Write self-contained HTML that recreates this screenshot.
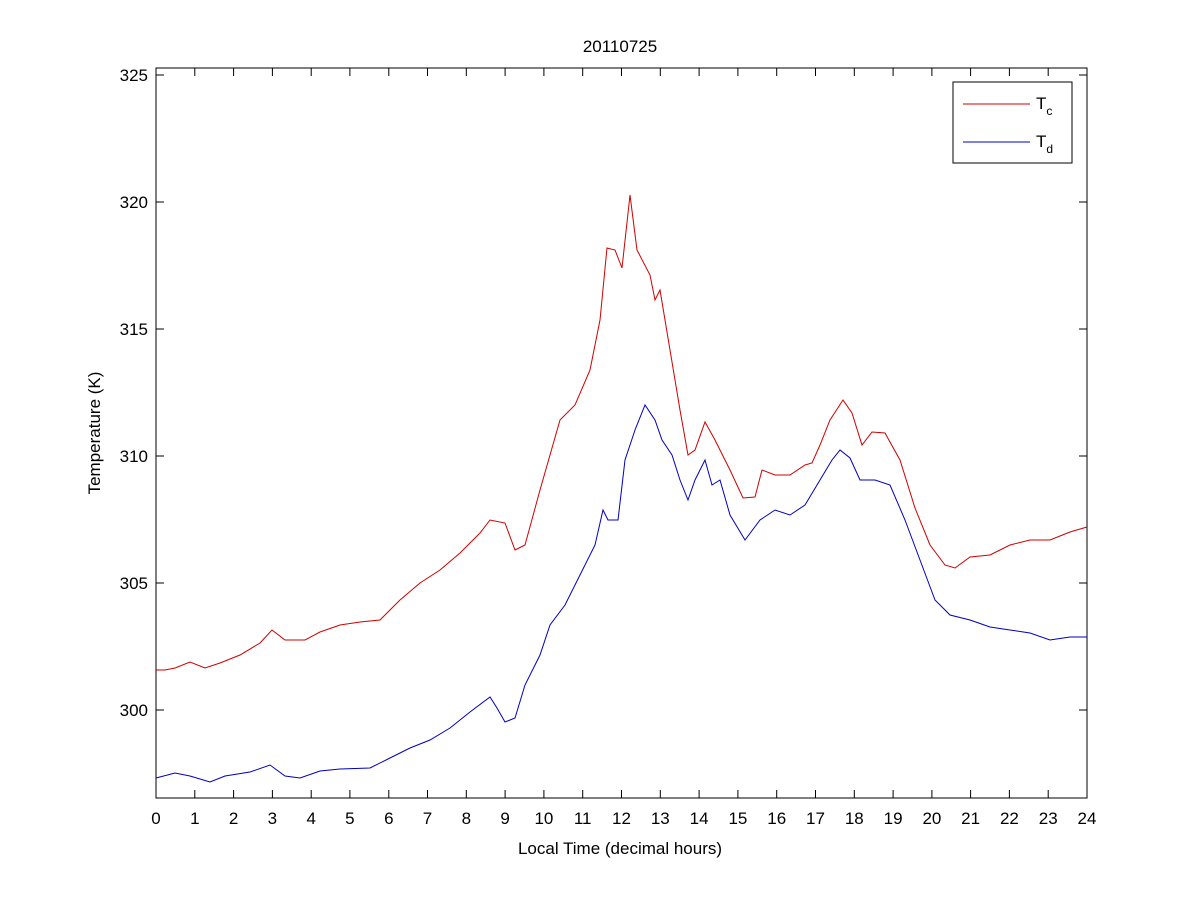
<!DOCTYPE html>
<html><head><style>body{margin:0;background:#fff}svg{display:block;font-family:"Liberation Sans",sans-serif}</style></head>
<body>
<svg width="1201" height="900" xmlns="http://www.w3.org/2000/svg">
<rect width="1201" height="900" fill="#fff"/>
<rect x="156" y="68" width="931" height="730" fill="none" stroke="#000" stroke-width="1"/>
<g stroke="#000" stroke-width="1" id="t">
<!-- y ticks -->
<path d="M156 75h8M1087 75h-8M156 202h8M1087 202h-8M156 329h8M1087 329h-8M156 456h8M1087 456h-8M156 583h8M1087 583h-8M156 710h8M1087 710h-8"/>
<path d="M156.0 798v-8M156.0 68v8M194.8 798v-8M194.8 68v8M233.6 798v-8M233.6 68v8M272.4 798v-8M272.4 68v8M311.2 798v-8M311.2 68v8M349.9 798v-8M349.9 68v8M388.8 798v-8M388.8 68v8M427.5 798v-8M427.5 68v8M466.3 798v-8M466.3 68v8M505.1 798v-8M505.1 68v8M543.9 798v-8M543.9 68v8M582.7 798v-8M582.7 68v8M621.5 798v-8M621.5 68v8M660.3 798v-8M660.3 68v8M699.1 798v-8M699.1 68v8M737.9 798v-8M737.9 68v8M776.7 798v-8M776.7 68v8M815.5 798v-8M815.5 68v8M854.3 798v-8M854.3 68v8M893.1 798v-8M893.1 68v8M931.9 798v-8M931.9 68v8M970.6 798v-8M970.6 68v8M1009.4 798v-8M1009.4 68v8M1048.2 798v-8M1048.2 68v8M1087 798v-8M1087 68v8"/>
</g>
<g font-size="17" text-anchor="end">
<text x="148" y="81">325</text><text x="148" y="208">320</text><text x="148" y="335">315</text><text x="148" y="462">310</text><text x="148" y="589">305</text><text x="148" y="716">300</text>
</g>
<g font-size="17" text-anchor="middle">
<text x="156" y="824">0</text><text x="194.8" y="824">1</text><text x="233.6" y="824">2</text><text x="272.4" y="824">3</text><text x="311.2" y="824">4</text><text x="349.9" y="824">5</text><text x="388.8" y="824">6</text><text x="427.5" y="824">7</text><text x="466.3" y="824">8</text><text x="505.1" y="824">9</text><text x="543.9" y="824">10</text><text x="582.7" y="824">11</text><text x="621.5" y="824">12</text><text x="660.3" y="824">13</text><text x="699.1" y="824">14</text><text x="737.9" y="824">15</text><text x="776.7" y="824">16</text><text x="815.5" y="824">17</text><text x="854.3" y="824">18</text><text x="893.1" y="824">19</text><text x="931.9" y="824">20</text><text x="970.6" y="824">21</text><text x="1009.4" y="824">22</text><text x="1048.2" y="824">23</text><text x="1087" y="824">24</text>
<text x="620" y="854">Local Time (decimal hours)</text>
<text x="620" y="52">20110725</text>
<text transform="translate(100,433) rotate(-90)">Temperature (K)</text>
</g>
<polyline fill="none" stroke="#d00000" stroke-width="1" points="156,670 165,670 175,668 190,662 205,668 220,663 240,655 260,643 272,630 285,640 305,640 320,632 340,625 360,622 380,620 400,600 420,583 440,570 460,553 480,533 490,520 505,523 515,550 525,545 540,490 560,420 575,405 590,370 600,320 607,248 615,250 622,268 630,195 637,250 650,275 655,300 660,290 670,350 680,410 688,455 695,450 705,422 715,440 730,470 743,498 755,497 762,470 775,475 790,475 805,465 812,463 820,445 830,420 843,400 852,413 862,445 872,432 885,433 900,460 915,508 930,545 945,565 955,568 970,557 990,555 1010,545 1030,540 1050,540 1070,532 1087,527"/>
<polyline fill="none" stroke="#0000c0" stroke-width="1" points="156,778 175,773 190,776 210,782 225,776 250,772 270,765 285,776 300,778 320,771 340,769 370,768 390,758 410,748 430,740 450,728 470,712 490,697 497,708 505,722 515,718 525,685 540,655 550,625 565,605 580,575 595,545 603,510 608,520 618,520 625,460 635,430 645,405 655,420 662,440 672,455 680,480 688,500 695,480 700,470 705,460 712,485 720,480 730,515 745,540 760,520 775,510 790,515 805,505 820,480 832,460 840,450 850,458 860,480 875,480 890,485 905,520 920,560 935,600 950,615 970,620 990,627 1010,630 1030,633 1050,640 1070,637 1087,637"/>
<rect x="953" y="82" width="119" height="81" fill="#fff" stroke="#000"/>
<line x1="963" y1="104" x2="1030" y2="104" stroke="#d00000"/>
<line x1="963" y1="142" x2="1030" y2="142" stroke="#0000c0"/>
<text x="1036" y="109" font-size="17">T<tspan font-size="12" dy="6">c</tspan></text>
<text x="1036" y="147" font-size="17">T<tspan font-size="12" dy="6">d</tspan></text>
</svg>
</body></html>
